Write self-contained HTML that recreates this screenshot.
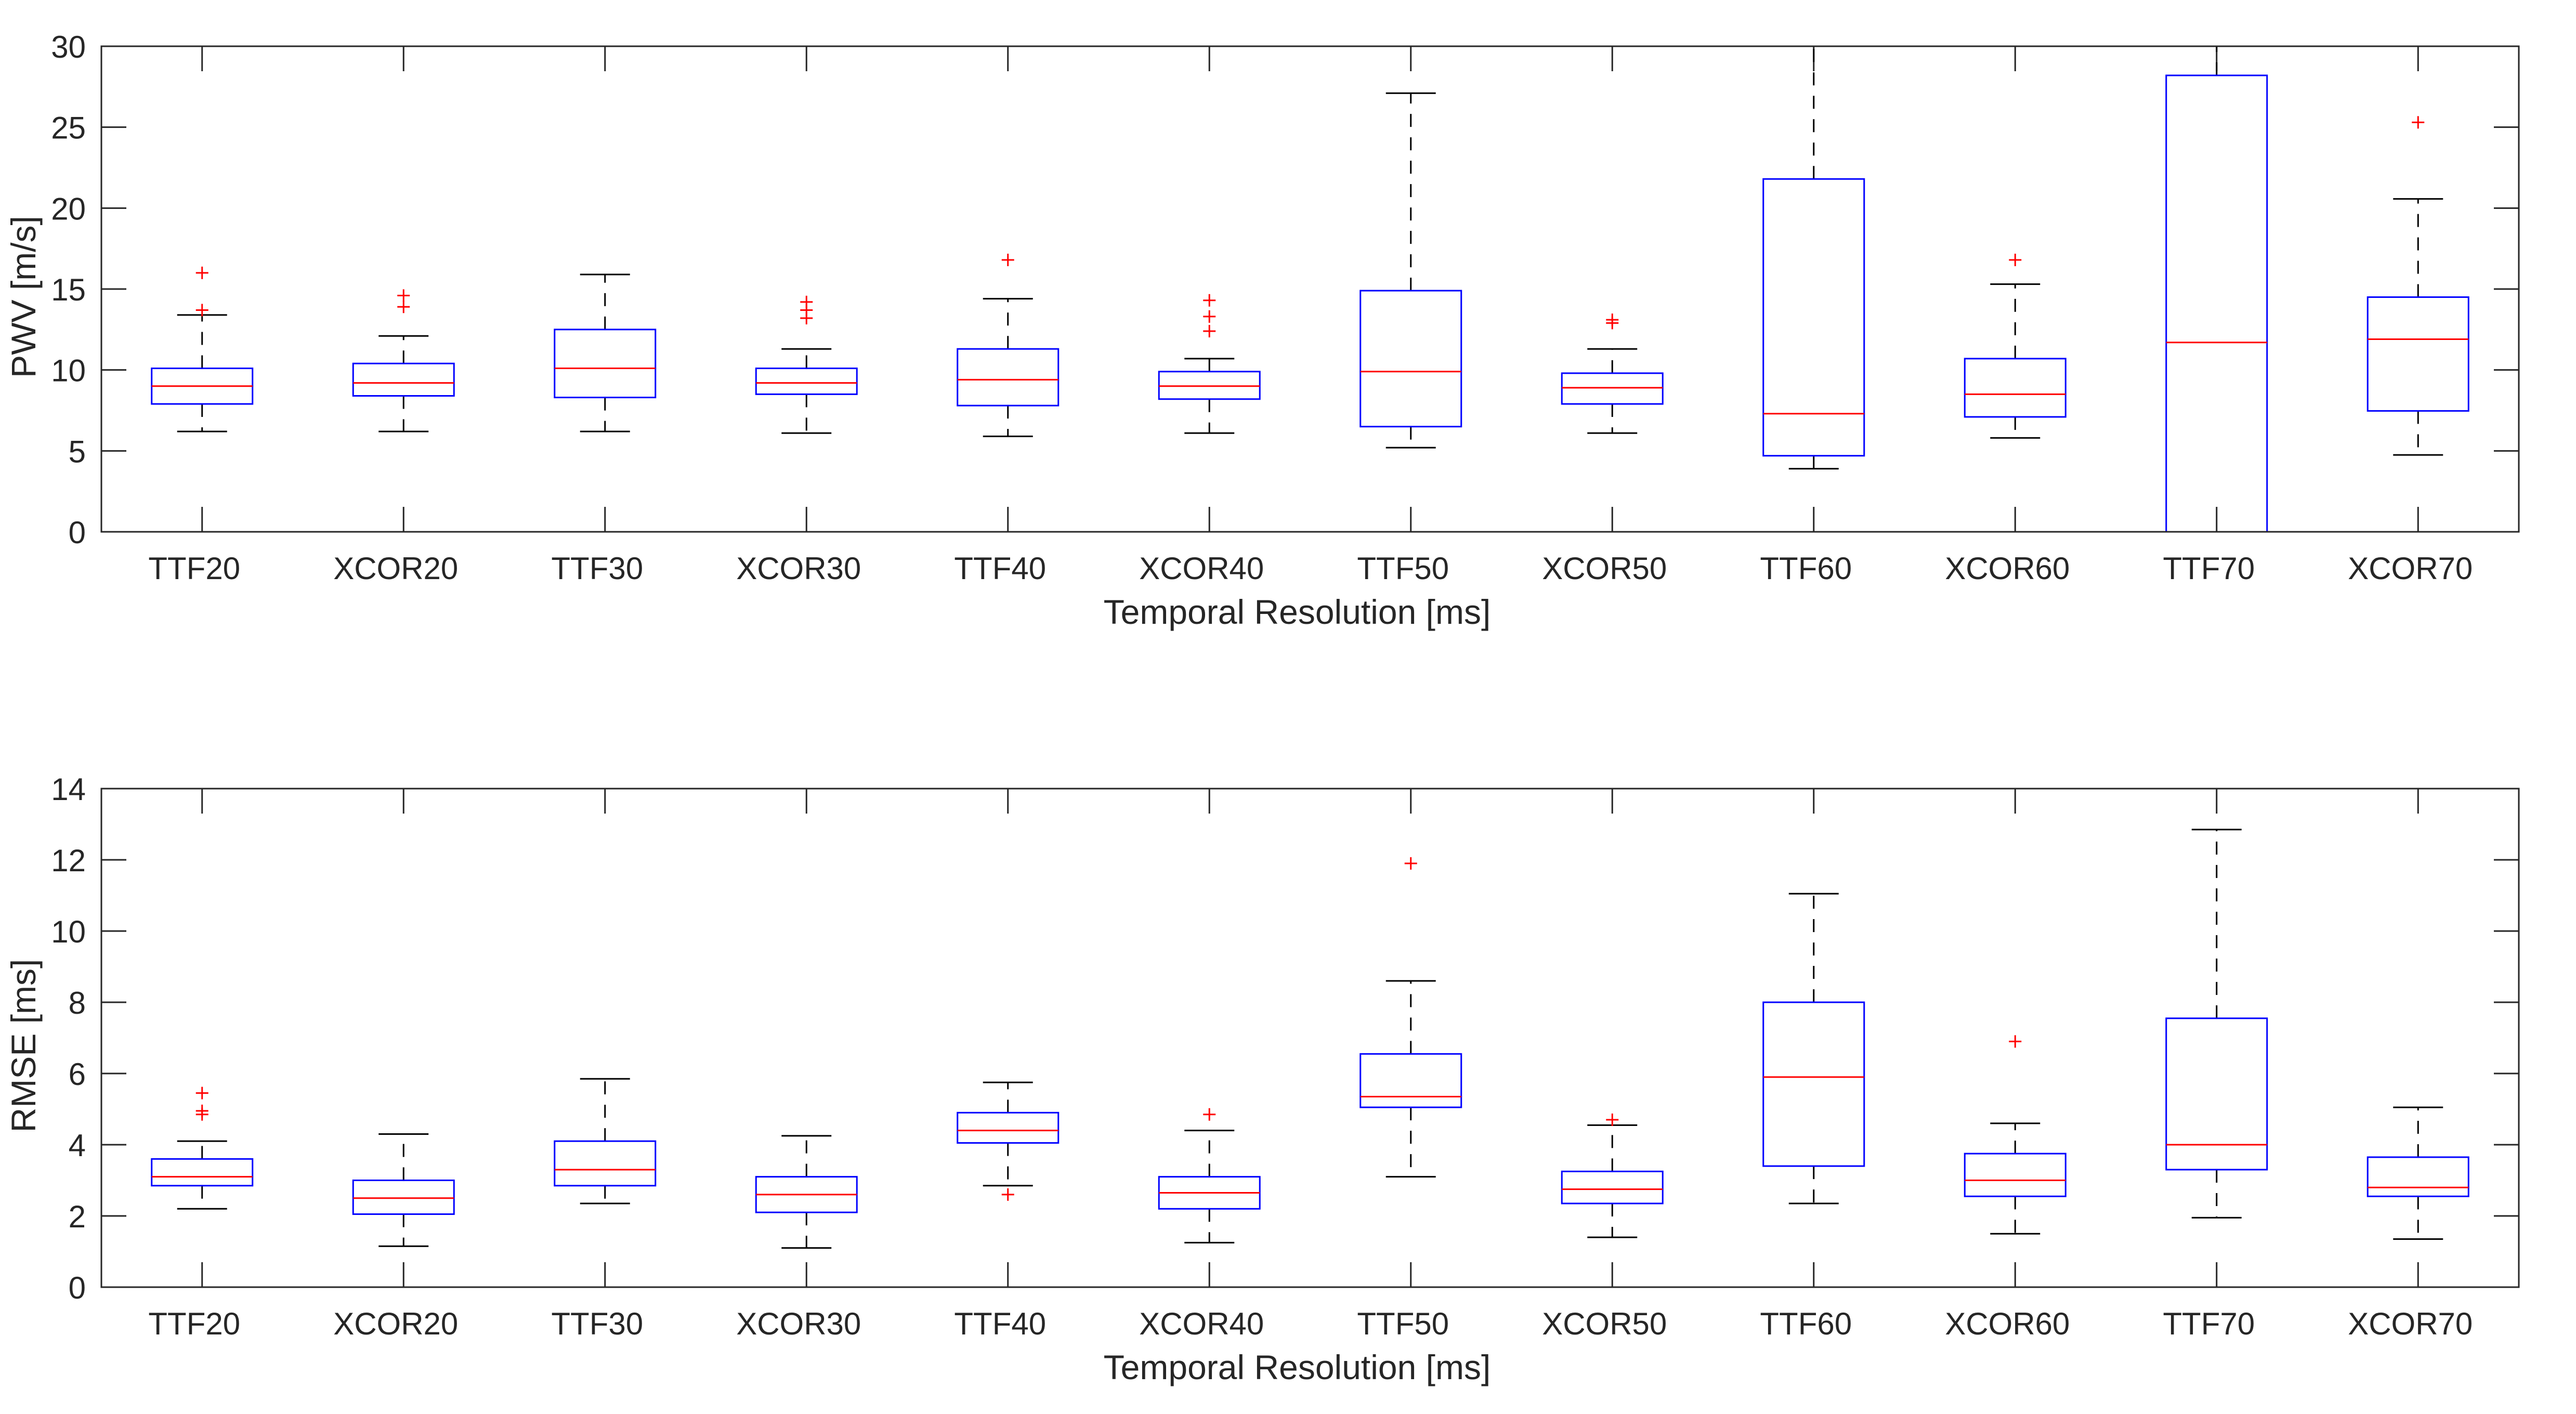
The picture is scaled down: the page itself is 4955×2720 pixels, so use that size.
<!DOCTYPE html>
<html><head><meta charset="utf-8"><style>
html,body{margin:0;padding:0;background:#fff;}
svg{display:block;font-family:"Liberation Sans",sans-serif;}
</style></head><body>
<svg id="fig" width="4955" height="2720" viewBox="0 0 4955 2720" xmlns="http://www.w3.org/2000/svg">
<rect width="4955" height="2720" fill="#fff"/>
<defs>
<clipPath id="clipTop"><rect x="195" y="89" width="4650" height="934"/></clipPath>
<clipPath id="clipBot"><rect x="195" y="1517" width="4650" height="959"/></clipPath>
</defs>
</svg>
<script>
const categories = ["TTF20","XCOR20","TTF30","XCOR30","TTF40","XCOR40","TTF50","XCOR50","TTF60","XCOR60","TTF70","XCOR70"];
// PWV panel
const pwvLo  = [6.2,6.2,6.2,6.1,5.9,6.1,5.2,6.1,3.9,5.8,-8,4.75];
const pwvQ1  = [7.9,8.4,8.3,8.5,7.8,8.2,6.5,7.9,4.7,7.1,-2,7.47];
const pwvMed = [9.0,9.2,10.1,9.2,9.4,9.0,9.9,8.9,7.3,8.5,11.7,11.9];
const pwvQ3  = [10.1,10.4,12.5,10.1,11.3,9.9,14.9,9.8,21.8,10.7,28.2,14.5];
const pwvHi  = [13.4,12.1,15.9,11.3,14.4,10.7,27.1,11.3,38,15.3,38,20.57];
const pwvOut = [[13.7,16.0],[13.9,14.6],[],[13.2,13.7,14.2],[16.8],[12.4,13.3,14.3],[],[12.9,13.1],[],[16.8],[],[25.3]];
const pwvTicks = [0,5,10,15,20,25,30];
// RMSE panel
const rmLo  = [2.2,1.15,2.35,1.1,2.85,1.25,3.1,1.4,2.35,1.5,1.95,1.35];
const rmQ1  = [2.85,2.05,2.85,2.1,4.05,2.2,5.05,2.35,3.4,2.55,3.3,2.55];
const rmMed = [3.1,2.5,3.3,2.6,4.4,2.65,5.35,2.75,5.9,3.0,4.0,2.8];
const rmQ3  = [3.6,3.0,4.1,3.1,4.9,3.1,6.55,3.25,8.0,3.75,7.55,3.65];
const rmHi  = [4.1,4.3,5.85,4.25,5.75,4.4,8.6,4.55,11.05,4.6,12.85,5.05];
const rmOut = [[4.85,4.95,5.45],[],[],[],[2.6],[4.85],[11.9],[4.7],[],[6.9],[],[]];
const rmTicks = [0,2,4,6,8,10,12,14];

const NS = "http://www.w3.org/2000/svg";
const svg = document.getElementById("fig");
function mk(tag, attrs, parent){
  const e = document.createElementNS(NS, tag);
  for (const k in attrs) e.setAttribute(k, attrs[k]);
  (parent||svg).appendChild(e);
  return e;
}
const L = 195, R = 4845, BW = (R-L)/categories.length;
const xPos = i => L + (i+0.5)*BW;

function panel(top, bot, ymax, ticks, lo, q1, med, q3, hi, out, clipId, ylabel, prefix){
  const y = v => bot - v/ymax*(bot-top);
  const g = mk("g", {});
  
  
  ticks.forEach(t => {
    const yy = y(t);
    const tl = mk("line", {x1:L, x2:L+48, y1:yy, y2:yy, stroke:"#262626", "stroke-width":3}, g);
    
    
    const tr = mk("line", {x1:R, x2:R-48, y1:yy, y2:yy, stroke:"#262626", "stroke-width":3}, g);
    
    
    const tx = mk("text", {x:165, y:yy+22, "text-anchor":"end", "font-size":60, fill:"#262626"}, g);
    tx.textContent = t;
    
    
  });
  categories.forEach((c,i) => {
    const xx = xPos(i);
    const t1 = mk("line", {x1:xx, x2:xx, y1:bot, y2:bot-48, stroke:"#262626", "stroke-width":3}, g);
    
    
    const t2 = mk("line", {x1:xx, x2:xx, y1:top, y2:top+48, stroke:"#262626", "stroke-width":3}, g);
    
    
    const tx = mk("text", {x:xx-15, y:bot+91, "text-anchor":"middle", "font-size":60, fill:"#262626"}, g);
    tx.textContent = c;
    
    
  });
  const bg = mk("g", {"clip-path":"url(#"+clipId+")"}, g);
  categories.forEach((c,i) => {
    const xx = xPos(i);
    const box = mk("g", {}, bg);
    
    
    const w1 = mk("line", {x1:xx, x2:xx, y1:y(q3[i]), y2:y(hi[i]), stroke:"#000", "stroke-width":3, "stroke-dasharray":"25 20"}, box);
    
    
    const w2 = mk("line", {x1:xx, x2:xx, y1:y(q1[i]), y2:y(lo[i]), stroke:"#000", "stroke-width":3, "stroke-dasharray":"25 20"}, box);
    
    
    const c1 = mk("line", {x1:xx-48, x2:xx+48, y1:y(hi[i]), y2:y(hi[i]), stroke:"#000", "stroke-width":3}, box);
    
    
    const c2 = mk("line", {x1:xx-48, x2:xx+48, y1:y(lo[i]), y2:y(lo[i]), stroke:"#000", "stroke-width":3}, box);
    
    
    const r = mk("rect", {x:xx-97, y:y(q3[i]), width:194, height:y(q1[i])-y(q3[i]), fill:"none", stroke:"#0000ff", "stroke-width":3}, box);
    
    
    const m = mk("line", {x1:xx-97, x2:xx+97, y1:y(med[i]), y2:y(med[i]), stroke:"#ff0000", "stroke-width":3}, box);
    
    
    out[i].forEach(v => {
      const p = mk("path", {d:"M"+(xx-12)+" "+y(v)+"H"+(xx+12)+"M"+xx+" "+(y(v)-12)+"V"+(y(v)+12), stroke:"#ff0000", "stroke-width":3, fill:"none"}, box);
      
      
    });
  });
  const fr = mk("rect", {x:L, y:top, width:R-L, height:bot-top, fill:"none", stroke:"#262626", "stroke-width":3}, g);
  
  
  const xl = mk("text", {x:(L+R)/2-25, y:bot+177, "text-anchor":"middle", "font-size":66, fill:"#262626"}, g);
  xl.textContent = "Temporal Resolution [ms]";
  
  
  const cy = (top+bot)/2 + 15;
  const yl = mk("text", {x:0, y:0, transform:"translate(68,"+cy+") rotate(-90)", "text-anchor":"middle", "font-size":66, fill:"#262626"}, g);
  yl.textContent = ylabel;
  
  
}
panel(89, 1023, 30, pwvTicks, pwvLo, pwvQ1, pwvMed, pwvQ3, pwvHi, pwvOut, "clipTop", "PWV [m/s]", "pwv");
panel(1517, 2476, 14, rmTicks, rmLo, rmQ1, rmMed, rmQ3, rmHi, rmOut, "clipBot", "RMSE [ms]", "rmse");
</script>
</body></html>
